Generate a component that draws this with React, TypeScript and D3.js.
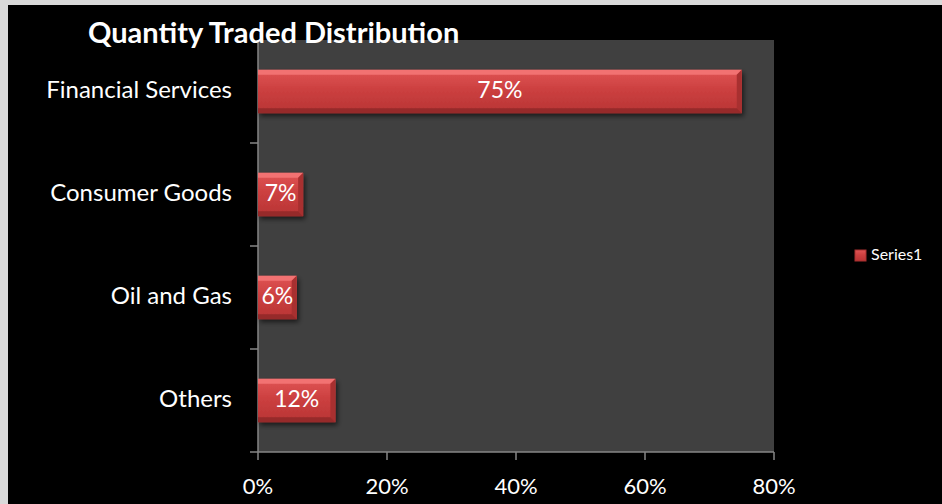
import React from 'react';
import * as d3 from 'd3';

const categories = ['Financial Services', 'Consumer Goods', 'Oil and Gas', 'Others'];
const values = [0.75, 0.07, 0.06, 0.12];
const xTicks = [0, 0.2, 0.4, 0.6, 0.8];
const seriesName = 'Series1';

const W = 942;
const H = 504;
const plot = { left: 258, top: 40, right: 774, bottom: 452 };
const font = 'Lato, "Open Sans", sans-serif';

const App: React.FC = () => {
  const x = d3.scaleLinear().domain([0, 0.8]).range([plot.left, plot.right]);
  const y = d3.scaleBand<string>().domain(categories).range([plot.top, plot.bottom]).paddingInner(0.58).paddingOuter(0.29);
  const fmt = d3.format('.0%');
  const bw = y.bandwidth();
  const bevel = 5;

  return (
    <div style={{ position: 'absolute', left: 0, top: 0 }}>
      <svg width={W} height={H} style={{ display: 'block' }}>
        <defs>
          <linearGradient id="face" x1="0" y1="0" x2="0" y2="1">
            <stop offset="0%" stopColor="#e05555" />
            <stop offset="45%" stopColor="#cc4040" />
            <stop offset="100%" stopColor="#b83434" />
          </linearGradient>
          <filter id="shadow" x="-10%" y="-20%" width="130%" height="160%">
            <feGaussianBlur in="SourceAlpha" stdDeviation="2.5" />
            <feOffset dx="2" dy="3" result="b" />
            <feComponentTransfer><feFuncA type="linear" slope="0.6" /></feComponentTransfer>
            <feMerge><feMergeNode /><feMergeNode in="SourceGraphic" /></feMerge>
          </filter>
        </defs>
        <rect width={W} height={H} fill="#d9d9d9" />
        <rect x={8} y={5} width={W - 8} height={H - 5} fill="#000" />
        <rect x={plot.left} y={plot.top} width={plot.right - plot.left} height={plot.bottom - plot.top} fill="#404040" />

        {/* axes */}
        <line x1={plot.left} x2={plot.left} y1={plot.top} y2={plot.bottom} stroke="#868686" strokeWidth={1.5} />
        <line x1={plot.left} x2={plot.right} y1={plot.bottom} y2={plot.bottom} stroke="#868686" strokeWidth={1.5} />
        {categories.map((c) => (
          <line key={'yt' + c} x1={plot.left - 8} x2={plot.left} y1={(y(c) as number) + bw / 2 + y.step() / 2} y2={(y(c) as number) + bw / 2 + y.step() / 2} stroke="#868686" strokeWidth={1.5} />
        ))}
        {xTicks.map((t) => (
          <g key={'xt' + t}>
            <line x1={x(t)} x2={x(t)} y1={plot.bottom} y2={plot.bottom + 8} stroke="#868686" strokeWidth={1.5} />
            <text x={x(t)} y={488} textAnchor="middle" dominantBaseline="middle" fill="#fff" fontFamily={font} fontSize={22}>{fmt(t)}</text>
          </g>
        ))}

        {/* bars */}
        {categories.map((c, i) => {
          const y0 = y(c) as number;
          const x0 = x(0);
          const x1 = x(values[i]);
          const y1 = y0 + bw;
          return (
            <g key={c}>
              <g filter="url(#shadow)">
                <rect x={x0} y={y0} width={x1 - x0} height={bw} fill="url(#face)" />
              </g>
              <polygon points={`${x0},${y0} ${x1},${y0} ${x1 - bevel},${y0 + bevel} ${x0},${y0 + bevel}`} fill="#f27272" />
              <polygon points={`${x1},${y0} ${x1},${y1} ${x1 - bevel},${y1 - bevel} ${x1 - bevel},${y0 + bevel}`} fill="#a83030" />
              <polygon points={`${x0},${y1} ${x1},${y1} ${x1 - bevel},${y1 - bevel} ${x0},${y1 - bevel}`} fill="#962a2a" />
              <text x={(x0 + x1) / 2} y={y0 + bw / 2 + 1} textAnchor="middle" dominantBaseline="middle" fill="#fff" fontFamily={font} fontSize={23}>{fmt(values[i])}</text>
              <text x={232} y={y0 + bw / 2} textAnchor="end" dominantBaseline="middle" fill="#fff" fontFamily={font} fontSize={24}>{c}</text>
            </g>
          );
        })}

        {/* title */}
        <text x={88} y={36} dominantBaseline="middle" fill="#fff" fontFamily={font} fontSize={29} fontWeight="bold">Quantity Traded Distribution</text>

        {/* legend */}
        <rect x={855} y={250} width={11} height={11} fill="url(#face)" stroke="#a83030" strokeWidth={1} />
        <text x={871} y={256} dominantBaseline="middle" fill="#fff" fontFamily={font} fontSize={16}>{seriesName}</text>
      </svg>
    </div>
  );
};

export default App;
